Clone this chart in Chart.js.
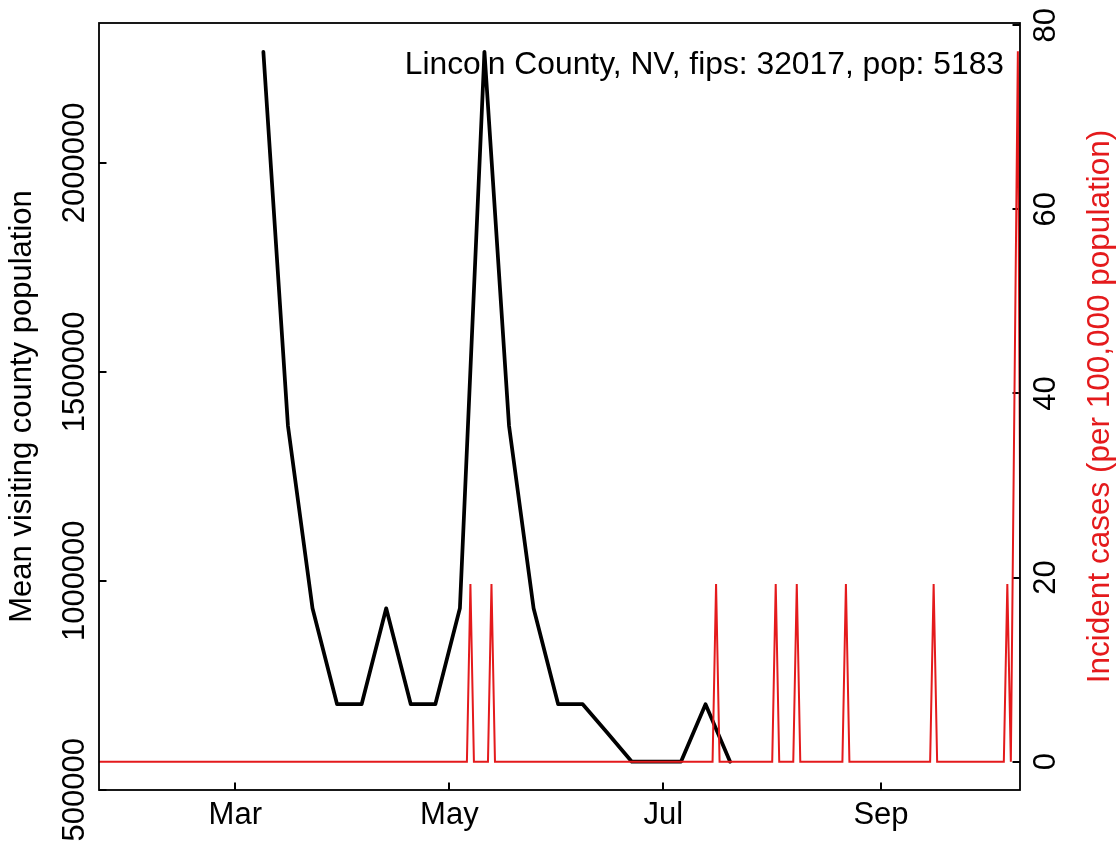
<!DOCTYPE html>
<html>
<head>
<meta charset="utf-8">
<script src="https://cdn.jsdelivr.net/npm/chart.js@4.4.1/dist/chart.umd.min.js"></script>
<style>
html, body { margin: 0; padding: 0; background: #fff; }
#wrap { width: 1119px; height: 845px; }
</style>
</head>
<body>
<div id="wrap"><canvas id="chart" width="1119" height="845"></canvas></div>
<script>
// x values are days counted from 1 Jan 2020 (day 0)
const blackDays = [68, 75, 82, 89, 96, 103, 110, 117, 124, 131, 138, 145, 152, 159, 166, 173, 180, 187, 194, 201];
const blackValues = [2266000, 1371000, 934000, 704500, 704500, 934000, 704500, 704500, 934000, 2266000,
                     1371000, 934000, 704500, 704500, 636000, 567000, 567000, 567000, 704500, 567000];

// incident cases per 100,000 (only the days where the series changes)
const redDays = [20, 126, 127, 128, 132, 133, 134, 196, 197, 198, 213, 214, 215, 219, 220, 221,
                 233, 234, 235, 258, 259, 260, 279, 280, 281, 282, 283, 284, 290];
const redValues = [0, 0, 19.29, 0, 0, 19.29, 0, 0, 19.29, 0, 0, 19.29, 0, 0, 19.29, 0,
                   0, 19.29, 0, 0, 19.29, 0, 0, 19.29, 0, 38.59, 77.17, 0, 0];

const monthTickDays = [60, 121, 182, 244];
const monthTickLabels = ['Mar', 'May', 'Jul', 'Sep'];
const leftTicks = [500000, 1000000, 1500000, 2000000];
const rightTicks = [0, 20, 40, 60, 80];

const annotationText = 'Lincoln County, NV, fips: 32017, pop: 5183';
const leftTitle = 'Mean visiting county population';
const rightTitle = 'Incident cases (per 100,000 population)';

const FONT = "'Liberation Sans', Arial, Helvetica, sans-serif";
const RED = '#e41a1c';

function toPoints(xs, ys) {
    return xs.map((x, i) => ({ x: x, y: ys[i] }));
}

// replace the generated ticks with our own list
function fixTicks(values) {
    return function (scale) {
        scale.ticks = values.map(v => ({ value: v }));
    };
}

// force the axis box size so the plot area lands where it should
function fixSize(prop, size) {
    return function (scale) {
        scale[prop] = size;
        scale.paddingTop = 0;
        scale.paddingBottom = 0;
        scale.paddingLeft = 0;
        scale.paddingRight = 0;
    };
}

const tickGrid = { drawOnChartArea: false, drawTicks: true, tickLength: -7.5, color: '#000', lineWidth: 2 };

// box, annotation and right-hand title
const decorations = {
    id: 'decorations',
    beforeDatasetsDraw(chart) {
        const { ctx, chartArea: a } = chart;
        ctx.save();
        ctx.font = '31.8px ' + FONT;
        ctx.fillStyle = '#000';
        ctx.textAlign = 'right';
        ctx.textBaseline = 'alphabetic';
        ctx.fillText(annotationText, a.right - 16, a.top + 50.5);
        ctx.restore();
    },
    afterDatasetsDraw(chart) {
        const { ctx, chartArea: a } = chart;
        ctx.save();
        ctx.strokeStyle = '#000';
        ctx.lineWidth = 1.8;
        ctx.strokeRect(a.left, a.top, a.right - a.left, a.bottom - a.top);
        ctx.translate(1109, (a.top + a.bottom) / 2);
        ctx.rotate(-Math.PI / 2);
        ctx.font = '31.5px ' + FONT;
        ctx.fillStyle = RED;
        ctx.textAlign = 'center';
        ctx.textBaseline = 'alphabetic';
        ctx.fillText(rightTitle, 0, 0);
        ctx.restore();
    }
};

const ctx = document.getElementById('chart').getContext('2d');
const chart = new Chart(ctx, {
    type: 'line',
    data: {
        datasets: [
            {
                label: 'Incident cases',
                data: toPoints(redDays, redValues),
                yAxisID: 'y1',
                borderColor: RED,
                borderWidth: 2,
                pointRadius: 0,
                tension: 0,
                fill: false
            },
            {
                label: 'Mean visiting county population',
                data: toPoints(blackDays, blackValues),
                yAxisID: 'y',
                borderColor: '#000',
                borderWidth: 3.75,
                borderJoinStyle: 'round',
                borderCapStyle: 'round',
                pointRadius: 0,
                tension: 0,
                fill: false
            }
        ]
    },
    options: {
        responsive: false,
        animation: false,
        devicePixelRatio: 1,
        layout: { padding: { top: 23, left: 0, right: 0, bottom: 0 } },
        plugins: {
            legend: { display: false },
            tooltip: { enabled: false }
        },
        scales: {
            x: {
                type: 'linear',
                position: 'bottom',
                min: 21.16,
                max: 283.61,
                afterBuildTicks: fixTicks(monthTickDays),
                afterFit: fixSize('height', 55),
                grid: tickGrid,
                border: { display: false },
                ticks: {
                    callback: v => monthTickLabels[monthTickDays.indexOf(v)],
                    font: { family: FONT, size: 31 },
                    color: '#000',
                    padding: 14.2,
                    maxRotation: 0,
                    autoSkip: false
                }
            },
            y: {
                type: 'linear',
                position: 'left',
                min: 499200,
                max: 2334900,
                afterBuildTicks: fixTicks(leftTicks),
                afterFit: fixSize('width', 99),
                grid: tickGrid,
                border: { display: false },
                ticks: {
                    callback: v => String(v),
                    font: { family: FONT, size: 31 },
                    color: '#000',
                    minRotation: 90,
                    maxRotation: 90,
                    crossAlign: 'center',
                    padding: -29.3,
                    autoSkip: false
                },
                title: {
                    display: true,
                    text: leftTitle,
                    font: { family: FONT, size: 31 },
                    color: '#000',
                    padding: { top: 4, bottom: 0 }
                }
            },
            y1: {
                type: 'linear',
                position: 'right',
                min: -3.08,
                max: 80.24,
                afterBuildTicks: fixTicks(rightTicks),
                afterFit: fixSize('width', 99),
                grid: tickGrid,
                border: { display: false },
                ticks: {
                    callback: v => String(v),
                    font: { family: FONT, size: 31 },
                    color: '#000',
                    minRotation: 90,
                    maxRotation: 90,
                    crossAlign: 'center',
                    padding: 17,
                    autoSkip: false
                }
            }
        }
    },
    plugins: [decorations]
});
</script>
</body>
</html>
